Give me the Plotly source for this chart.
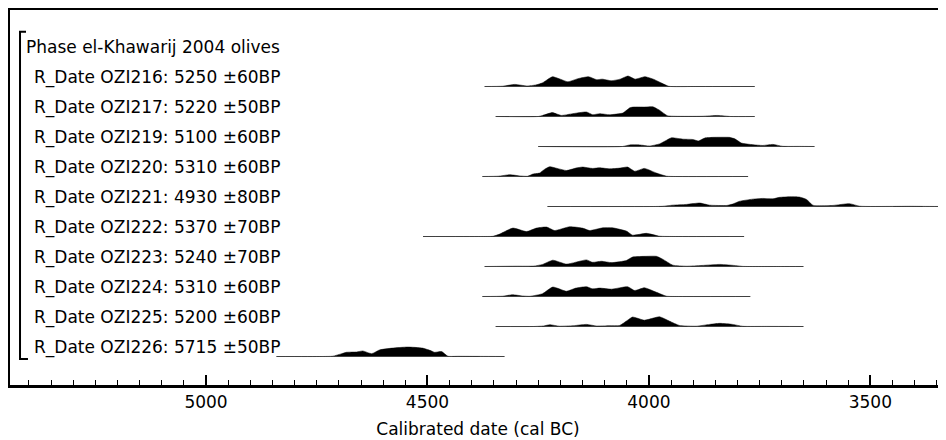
import plotly.graph_objects as go

# ---------------- data ----------------
group_label = "Phase el-Khawarij 2004 olives"

date_labels = [
    "R_Date OZI216: 5250 ±60BP",
    "R_Date OZI217: 5220 ±50BP",
    "R_Date OZI219: 5100 ±60BP",
    "R_Date OZI220: 5310 ±60BP",
    "R_Date OZI221: 4930 ±80BP",
    "R_Date OZI222: 5370 ±70BP",
    "R_Date OZI223: 5240 ±70BP",
    "R_Date OZI224: 5310 ±60BP",
    "R_Date OZI225: 5200 ±60BP",
    "R_Date OZI226: 5715 ±50BP",
]

# calibrated year (cal BC) and relative probability (peak ~1)
ozi216_years = [4371, 4330, 4303, 4275, 4255, 4240, 4218, 4200, 4183, 4160, 4136, 4118, 4105, 4085, 4065, 4047, 4031, 4009, 3990, 3970, 3955, 3900, 3761]
ozi216_prob = [0, 0.03, 0.2, 0.05, 0.15, 0.35, 0.93, 0.7, 0.45, 0.75, 0.93, 0.65, 0.7, 0.55, 0.7, 1.0, 0.7, 0.93, 0.7, 0.3, 0.02, 0, 0]

ozi217_years = [4346, 4250, 4240, 4218, 4198, 4175, 4141, 4127, 4111, 4089, 4059, 4043, 4035, 4010, 3991, 3976, 3958, 3940, 3880, 3845, 3815, 3761]
ozi217_prob = [0, 0, 0.1, 0.37, 0.1, 0.25, 0.43, 0.17, 0.27, 0.17, 0.33, 0.83, 0.9, 0.9, 0.93, 0.6, 0.07, 0.02, 0.02, 0.1, 0.0, 0]

ozi219_years = [4250, 4060, 4043, 4021, 3998, 3976, 3960, 3949, 3923, 3901, 3888, 3874, 3856, 3830, 3818, 3806, 3791, 3765, 3743, 3720, 3698, 3660, 3626]
ozi219_prob = [0, 0, 0.15, 0.15, 0.05, 0.25, 0.6, 0.83, 0.7, 0.67, 0.53, 0.8, 0.87, 0.88, 0.87, 0.73, 0.33, 0.17, 0.1, 0.2, 0.02, 0.01, 0]

ozi220_years = [4376, 4340, 4314, 4290, 4274, 4262, 4247, 4235, 4224, 4205, 4186, 4165, 4150, 4127, 4111, 4089, 4065, 4048, 4032, 4010, 3983, 3960, 3940, 3776]
ozi220_prob = [0, 0.03, 0.17, 0.05, 0.02, 0.23, 0.33, 0.7, 0.93, 0.75, 0.57, 0.8, 0.9, 0.77, 0.83, 0.73, 0.8, 0.9, 0.5, 0.77, 0.33, 0.03, 0, 0]

ozi221_years = [4229, 3990, 3969, 3946, 3915, 3885, 3863, 3824, 3811, 3795, 3766, 3743, 3720, 3705, 3682, 3660, 3644, 3630, 3621, 3585, 3547, 3524, 3450, 3410, 3380, 3340]
ozi221_prob = [0, 0, 0.02, 0.13, 0.2, 0.33, 0.13, 0.1, 0.23, 0.5, 0.7, 0.77, 0.73, 0.87, 0.93, 0.9, 0.67, 0.13, 0.07, 0.1, 0.27, 0.03, 0.01, 0.02, 0.01, 0]

ozi222_years = [4510, 4380, 4352, 4337, 4307, 4276, 4254, 4231, 4213, 4179, 4150, 4134, 4104, 4082, 4050, 4037, 4005, 3976, 3940, 3785]
ozi222_prob = [0, 0, 0.02, 0.23, 0.8, 0.47, 0.8, 0.9, 0.57, 0.93, 0.8, 0.57, 0.83, 0.83, 0.5, 0.13, 0.3, 0.03, 0, 0]

ozi223_years = [4371, 4300, 4260, 4240, 4217, 4186, 4141, 4127, 4107, 4084, 4051, 4037, 4005, 3983, 3969, 3946, 3915, 3880, 3840, 3802, 3788, 3700, 3651]
ozi223_prob = [0, 0.03, 0.04, 0.2, 0.6, 0.23, 0.63, 0.4, 0.5, 0.37, 0.57, 0.9, 0.97, 0.97, 0.7, 0.13, 0.03, 0.1, 0.2, 0.08, 0.01, 0, 0]

ozi224_years = [4376, 4330, 4308, 4285, 4269, 4240, 4217, 4186, 4165, 4141, 4127, 4111, 4084, 4048, 4032, 4010, 3983, 3960, 3930, 3771]
ozi224_prob = [0, 0.03, 0.17, 0.05, 0.02, 0.27, 0.9, 0.5, 0.8, 0.93, 0.73, 0.8, 0.7, 0.93, 0.57, 0.83, 0.4, 0.03, 0, 0]

ozi225_years = [4346, 4260, 4238, 4224, 4202, 4170, 4141, 4118, 4090, 4066, 4048, 4037, 4010, 3990, 3976, 3953, 3931, 3893, 3863, 3840, 3811, 3788, 3734, 3651]
ozi225_prob = [0, 0, 0.05, 0.17, 0.03, 0.08, 0.2, 0.05, 0.08, 0.1, 0.6, 0.9, 0.6, 0.8, 0.93, 0.5, 0.1, 0.03, 0.2, 0.3, 0.2, 0.02, 0.01, 0]

ozi226_years = [4841, 4740, 4714, 4695, 4683, 4660, 4646, 4626, 4608, 4579, 4545, 4511, 4491, 4484, 4468, 4454, 4430, 4380, 4326]
ozi226_prob = [0, 0, 0.03, 0.25, 0.4, 0.43, 0.53, 0.27, 0.63, 0.8, 0.9, 0.8, 0.53, 0.4, 0.47, 0.03, 0.02, 0.01, 0]

series_years = [ozi216_years, ozi217_years, ozi219_years, ozi220_years, ozi221_years,
                ozi222_years, ozi223_years, ozi224_years, ozi225_years, ozi226_years]
series_prob = [ozi216_prob, ozi217_prob, ozi219_prob, ozi220_prob, ozi221_prob,
               ozi222_prob, ozi223_prob, ozi224_prob, ozi225_prob, ozi226_prob]

major_ticks = [5000, 4500, 4000, 3500]
x_title = "Calibrated date (cal BC)"

# ---------------- styling ----------------
FONT = "DejaVu Sans"
FS = 17
ROW_H = 0.35      # height of a peak, in row units
LABEL_DY = 0.30   # label centre above baseline, in row units

fig = go.Figure()

for i, (yrs, pr) in enumerate(zip(series_years, series_prob)):
    base = -i
    # baseline
    fig.add_trace(go.Scatter(
        x=[max(yrs), min(yrs)], y=[base, base], mode="lines",
        line=dict(color="#808080", width=1.2), hoverinfo="skip", showlegend=False))
    # filled distribution
    fig.add_trace(go.Scatter(
        x=yrs, y=[base + p * ROW_H for p in pr], mode="lines",
        fill="toself", fillcolor="black",
        line=dict(color="black", width=0.5, shape="spline", smoothing=0.5),
        hoverinfo="skip", showlegend=False))

annotations = [dict(
    text=group_label, xref="paper", yref="y", x=0.015, y=1 + LABEL_DY + 0.02,
    xanchor="left", yanchor="middle", showarrow=False,
    font=dict(family=FONT, size=FS, color="black"))]
for i, lab in enumerate(date_labels):
    annotations.append(dict(
        text=lab, xref="paper", yref="y", x=0.0235, y=-i + LABEL_DY,
        xanchor="left", yanchor="middle", showarrow=False,
        font=dict(family=FONT, size=FS, color="black")))

shapes = [dict(
    type="path", xref="paper", yref="paper",
    path="M 0.0171 0.9421 L 0.0107 0.9421 L 0.0107 0.0693 L 0.0192 0.0693",
    line=dict(color="black", width=2))]

# the page body has an 8px default margin, so the figure is 8px smaller
fig.update_layout(
    width=938, height=432,
    margin=dict(l=2, r=0, t=2, b=55, autoexpand=False),
    paper_bgcolor="white", plot_bgcolor="white",
    font=dict(family=FONT, size=FS, color="black"),
    annotations=annotations, shapes=shapes,
    xaxis=dict(
        range=[5442.6, 3329.1], autorange=False,
        showgrid=False, zeroline=False,
        showline=True, mirror=True, linecolor="black", linewidth=3,
        tickmode="array", tickvals=major_ticks, ticktext=[str(t) for t in major_ticks],
        ticks="inside", ticklen=10, tickwidth=2, tickcolor="black",
        minor=dict(dtick=50, tick0=5000, ticks="inside", ticklen=5, tickwidth=1, tickcolor="black"),
        tickfont=dict(family=FONT, size=FS, color="black"),
        title=dict(text=x_title, font=dict(family=FONT, size=FS, color="black"), standoff=12),
        automargin=False,
    ),
    yaxis=dict(
        range=[-9.95, 2.55], autorange=False,
        showgrid=False, zeroline=False, showticklabels=False, ticks="",
        showline=True, linecolor="black", linewidth=3,
        automargin=False,
    ),
)

fig.write_html("out.html")
